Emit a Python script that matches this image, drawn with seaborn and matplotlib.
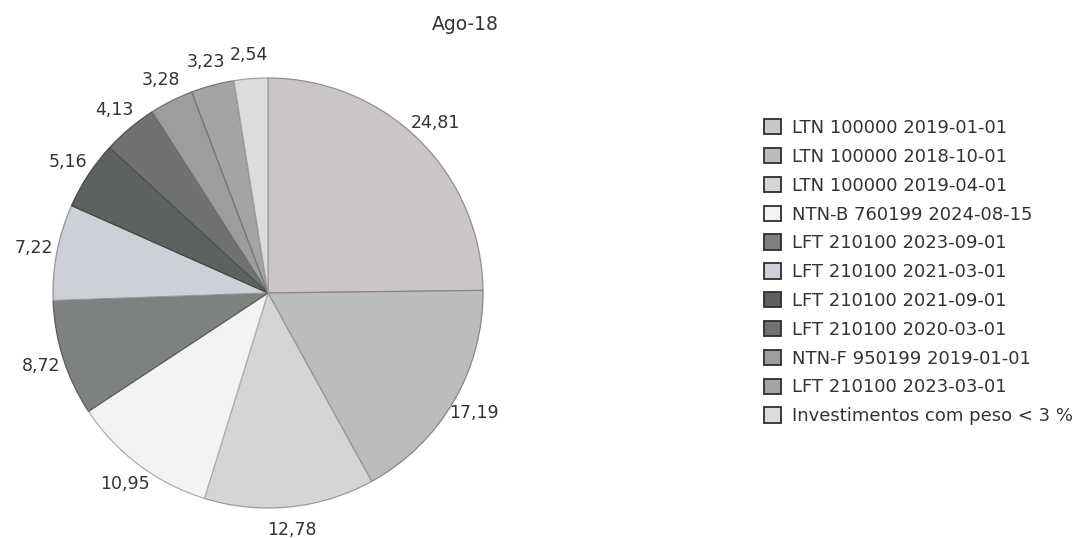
import matplotlib
matplotlib.use("Agg")
import matplotlib.pyplot as plt
import matplotlib.patches as mpatches
import matplotlib.colors as mcolors
import seaborn as sns

# values (percent weights, clockwise from 12 o'clock)
titulos = [
    "LTN 100000 2019-01-01",
    "LTN 100000 2018-10-01",
    "LTN 100000 2019-04-01",
    "NTN-B 760199 2024-08-15",
    "LFT 210100 2023-09-01",
    "LFT 210100 2021-03-01",
    "LFT 210100 2021-09-01",
    "LFT 210100 2020-03-01",
    "NTN-F 950199 2019-01-01",
    "LFT 210100 2023-03-01",
    "Investimentos com peso < 3 %",
]
pesos = [24.81, 17.19, 12.78, 10.95, 8.72, 7.22, 5.16, 4.13, 3.28, 3.23, 2.54]
cores = ["#cbc5c6", "#bdbcbc", "#d5d5d5", "#f3f3f3", "#7d817f", "#cdd0d6",
         "#5d625e", "#707270", "#9c9e9c", "#a3a5a3", "#dcdcdc"]
titulo = "Ago-18"

sns.set_theme(style="white")
plt.rcParams["font.family"] = ["DejaVu Sans"]

fig = plt.figure(figsize=(10.73, 5.38), dpi=100)
W, H = 1073, 538
cx, cy, r = 268, 293, 215
ax = fig.add_axes([(cx - r) / W, (H - cy - r) / H, 2 * r / W, 2 * r / H])

rotulos = [f"{v:.2f}".replace(".", ",") for v in pesos]
wedges, textos = ax.pie(pesos, colors=cores, startangle=90, counterclock=False,
                        labels=rotulos, labeldistance=1.11,
                        wedgeprops=dict(linewidth=0.9),
                        textprops=dict(fontsize=12.5, color="#333333"))
# edges a shade darker than each slice, like the original
for w, c in zip(wedges, cores):
    rgb = mcolors.to_rgb(c)
    w.set_edgecolor(tuple(v * 0.72 for v in rgb))
for t in textos:
    t.set_ha("center")
    t.set_va("center")
ax.set_xlim(-1, 1)
ax.set_ylim(-1, 1)
ax.set_aspect("equal")
ax.axis("off")

fig.text(465 / W, 1 - 24 / H, titulo, ha="center", va="center",
         fontsize=13.5, color="#333333")

handles = [mpatches.Patch(facecolor=c, edgecolor="#2e2e2e", linewidth=1.3) for c in cores]
leg = fig.legend(handles, titulos, loc="upper left",
                 bbox_to_anchor=(764 / W, 1 - 119 / H), frameon=False,
                 fontsize=13, handlelength=0.93, handleheight=0.93,
                 handletextpad=0.62, labelspacing=0.6, borderpad=0,
                 borderaxespad=0)
for t in leg.get_texts():
    t.set_color("#333333")

fig.savefig("out.png", dpi=100)
